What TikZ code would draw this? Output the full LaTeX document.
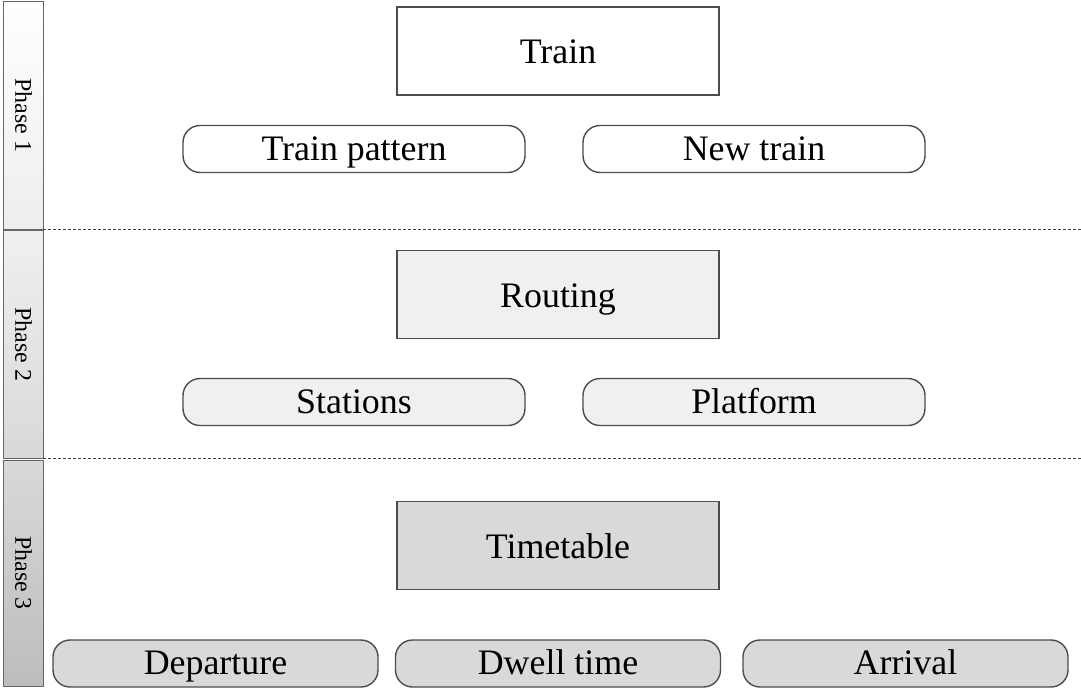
\documentclass[tikz,border=0pt]{standalone}
\usepackage{fontspec}
\setmainfont{Liberation Serif}
\begin{document}
\begin{tikzpicture}[x=1bp,y=-1bp,
  box/.style={draw=black!70,line width=1.4bp,minimum width=322bp,minimum height=88bp,inner sep=0pt,text height=25bp,text depth=0bp,font=\fontsize{36}{40}\selectfont},
  pill/.style={draw=black!70,line width=1.4bp,minimum height=47bp,inner sep=0pt,rounded corners=17bp,text height=23bp,text depth=0bp,font=\fontsize{36}{40}\selectfont},
  phase/.style={draw=black!60,line width=1bp,minimum width=39bp,inner sep=0pt},
  phasetext/.style={rotate=-90,font=\fontsize{24}{28}\selectfont},
  sep/.style={draw=black!75,line width=1.3bp,dash pattern=on 3bp off 2bp}]
\useasboundingbox (0,0) rectangle (1081,688);
% phase bars
\node[phase,minimum height=227bp,top color=white,bottom color=black!7] (p1) at (23.5,115.5) {};
\node[phasetext] (p1t) at (p1.center) {Phase 1};
\node[phase,minimum height=227bp,top color=black!6,bottom color=black!15] (p2) at (23.5,344.5) {};
\node[phasetext] (p2t) at (p2.center) {Phase 2};
\node[phase,minimum height=226bp,top color=black!15,bottom color=black!26] (p3) at (23.5,573) {};
\node[phasetext] (p3t) at (p3.center) {Phase 3};
% separators
\coordinate (s1a) at (43,229.5);
\coordinate (s1b) at (1081,229.5);
\coordinate (s2a) at (43,458.5);
\coordinate (s2b) at (1081,458.5);
\draw[sep] (s1a) -- (s1b);
\draw[sep] (s2a) -- (s2b);
% phase 1
\node[box,fill=white] (train) at (558,51) {Train};
\node[pill,minimum width=342bp,fill=white] (pattern) at (354,149) {Train pattern};
\node[pill,minimum width=342bp,fill=white] (newtrain) at (754,149) {New train};
% phase 2
\node[box,fill=black!6] (routing) at (558,294.5) {Routing};
\node[pill,minimum width=342bp,fill=black!6] (stations) at (354,402) {Stations};
\node[pill,minimum width=342bp,fill=black!6] (platform) at (754,402) {Platform};
% phase 3
\node[box,fill=black!15] (timetable) at (558,545.5) {Timetable};
\node[pill,minimum width=325bp,fill=black!15,text height=21bp] (departure) at (215.5,663.5) {Departure};
\node[pill,minimum width=325bp,fill=black!15,text height=21bp] (dwell) at (558,663.5) {Dwell time};
\node[pill,minimum width=325bp,fill=black!15,text height=21bp] (arrival) at (905.5,663.5) {Arrival};
\end{tikzpicture}
\end{document}
